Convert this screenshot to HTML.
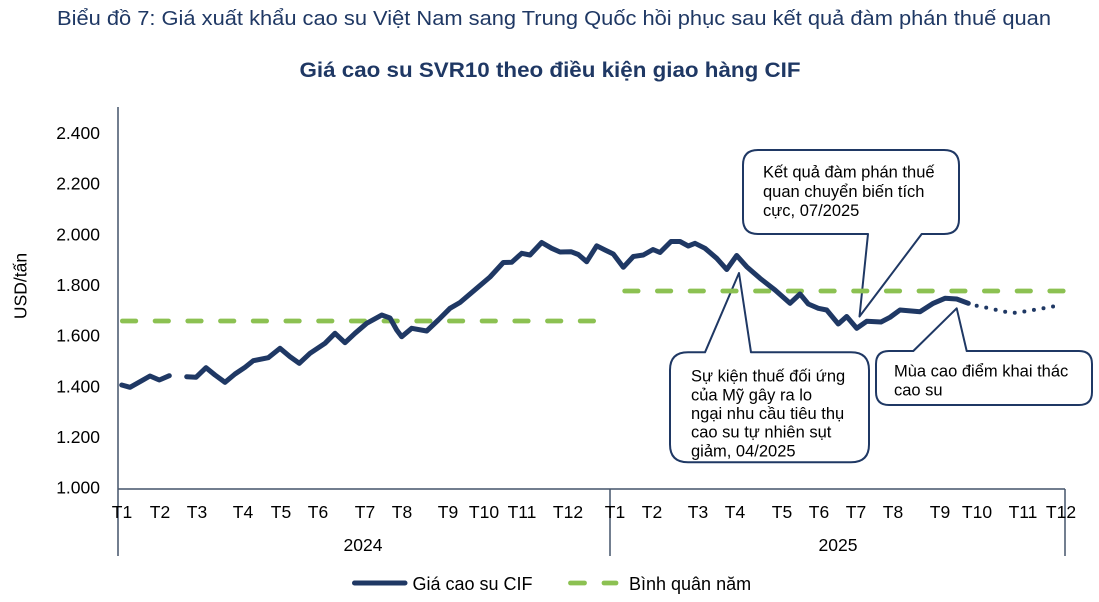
<!DOCTYPE html>
<html>
<head>
<meta charset="utf-8">
<style>
html,body{margin:0;padding:0;background:#fff;}
svg{display:block;}
text{font-family:"Liberation Sans",Arial,sans-serif;}
</style>
</head>
<body>
<svg width="1099" height="602" viewBox="0 0 1099 602" xmlns="http://www.w3.org/2000/svg">
<rect width="1099" height="602" fill="#fff"/>

<!-- Titles -->
<text x="57" y="25" font-size="20.5" fill="#1F3864" textLength="994" lengthAdjust="spacingAndGlyphs">Biểu đồ 7: Giá xuất khẩu cao su Việt Nam sang Trung Quốc hồi phục sau kết quả đàm phán thuế quan</text>
<text x="299.5" y="77" font-size="21.5" font-weight="bold" fill="#1F3864" textLength="501" lengthAdjust="spacingAndGlyphs">Giá cao su SVR10 theo điều kiện giao hàng CIF</text>

<!-- Y axis title -->
<text transform="translate(26.5,286) rotate(-90)" text-anchor="middle" font-size="17.5" fill="#000">USD/tấn</text>

<!-- Y labels -->
<g font-size="17.5" fill="#000" text-anchor="end">
<text x="100" y="139">2.400</text>
<text x="100" y="189.7">2.200</text>
<text x="100" y="240.3">2.000</text>
<text x="100" y="291">1.800</text>
<text x="100" y="341.7">1.600</text>
<text x="100" y="392.3">1.400</text>
<text x="100" y="443">1.200</text>
<text x="100" y="493.7">1.000</text>
</g>

<!-- Axes -->
<g stroke="#44546A" stroke-width="1.5" fill="none">
<line x1="118" y1="107" x2="118" y2="556"/>
<line x1="118" y1="489" x2="1065" y2="489"/>
<line x1="610" y1="489" x2="610" y2="556"/>
<line x1="1065" y1="489" x2="1065" y2="556"/>
</g>

<!-- X labels -->
<g font-size="17.5" fill="#000" text-anchor="middle">
<text x="122" y="518">T1</text>
<text x="160" y="518">T2</text>
<text x="197" y="518">T3</text>
<text x="243" y="518">T4</text>
<text x="281" y="518">T5</text>
<text x="318" y="518">T6</text>
<text x="365" y="518">T7</text>
<text x="402" y="518">T8</text>
<text x="448" y="518">T9</text>
<text x="484" y="518">T10</text>
<text x="522" y="518">T11</text>
<text x="568" y="518">T12</text>
<text x="615" y="518">T1</text>
<text x="652" y="518">T2</text>
<text x="698" y="518">T3</text>
<text x="735" y="518">T4</text>
<text x="782" y="518">T5</text>
<text x="819" y="518">T6</text>
<text x="856" y="518">T7</text>
<text x="893" y="518">T8</text>
<text x="940" y="518">T9</text>
<text x="977" y="518">T10</text>
<text x="1023" y="518">T11</text>
<text x="1061" y="518">T12</text>
<text x="363" y="551">2024</text>
<text x="838" y="551">2025</text>
</g>

<!-- Callouts -->
<g fill="#fff" stroke="#1F3864" stroke-width="2" stroke-linejoin="round">
<path d="M758,150 H944 Q959,150 959,165 V219 Q959,234 944,234 H921.7 L859.5,316.5 L868,234 H758 Q743,234 743,219 V165 Q743,150 758,150 Z"/>
<path d="M688,352.3 H705 L739,273 L751,352.3 H851 Q869,352.3 869,370 V444.5 Q869,462.3 851,462.3 H688 Q670,462.3 670,444.5 V370 Q670,352.3 688,352.3 Z"/>
<path d="M889,351 H913.3 L956.7,308.3 L966.7,351 H1079 Q1092,351 1092,364 V392 Q1092,405 1079,405 H889 Q876,405 876,392 V364 Q876,351 889,351 Z"/>
</g>
<g font-size="16.5" fill="#000">
<text x="763" y="177.5">Kết quả đàm phán thuế</text>
<text x="763" y="197">quan chuyển biến tích</text>
<text x="763" y="216">cực, 07/2025</text>
<text x="691" y="381.7">Sự kiện thuế đối ứng</text>
<text x="691" y="400.3">của Mỹ gây ra lo</text>
<text x="691" y="419">ngại nhu cầu tiêu thụ</text>
<text x="691" y="437.7">cao su tự nhiên sụt</text>
<text x="691" y="456.3">giảm, 04/2025</text>
<text x="894" y="376.5">Mùa cao điểm khai thác</text>
<text x="894" y="395.5">cao su</text>
</g>

<!-- Average dashed lines -->
<g stroke="#8CC152" stroke-width="4.8" stroke-linecap="round" fill="none" stroke-dasharray="13.4 19.3">
<line x1="122.4" y1="321" x2="597" y2="321"/>
<line x1="624.7" y1="291" x2="1064" y2="291"/>
</g>

<!-- Main series -->
<g stroke="#1F3864" stroke-width="5" stroke-linecap="round" stroke-linejoin="round" fill="none">
<polyline points="121.7,385 130,387.3 140,381.7 150,376 159.3,380 169.3,375.7"/>
<polyline points="186.7,376.7 196,377.3 206,367.7 215,375 225,382.3 235,374 245,367.3 253.3,360.7 268.3,357.7 280,348.3 290,356.7 299.3,363.3 310,353.3 325,343.3 335,333.3 345,342.7 355,333.3 366.7,323.3 381.7,315 390,318 396.7,330 401.7,336.7 411.7,328.3 426.7,331 438.3,320 450,308.3 460,302.5 476.7,288.3 490,277 503.3,262.5 511.7,262.3 521.7,253.3 530,255 541.7,242.5 551.7,248.3 560,252 571,251.7 578.3,254.5 586.7,261.7 596.7,245.8 605,250 613.3,254 623.3,267.3 633.3,256.5 643.3,255 653,249.5 660,252.5 671,241.5 680,241.5 688.3,246 695,243.3 705,248.3 716.7,258.3 726.7,269.5 736.7,255.5 746.7,266.7 760,278.3 775,290 790,303.3 800,294 808.3,304 818.3,308.3 826.7,310 838.3,324 846.7,316.5 856.7,328.3 866.7,321.3 881,322 890,317.3 900,310 920,311.7 933.3,303.3 945,298.3 956.7,299 968.3,303.3"/>
<path d="M976.7,305.7 L986.7,307.7 L996.7,310 L1005,311.7 L1013.3,313 L1023.3,311.7 L1033.3,310 L1043.3,308.3 L1053.3,306.5 L1060,304.5" stroke-width="4" stroke-dasharray="0 9.7"/>
</g>

<!-- Legend -->
<line x1="354.5" y1="583" x2="405" y2="583" stroke="#1F3864" stroke-width="5" stroke-linecap="round"/>
<text x="412.5" y="590" font-size="18" fill="#000">Giá cao su CIF</text>
<g stroke="#8CC152" stroke-width="4.8" stroke-linecap="round">
<line x1="570.5" y1="583" x2="584.5" y2="583"/>
<line x1="604" y1="583" x2="616" y2="583"/>
</g>
<text x="629" y="590" font-size="18" fill="#000">Bình quân năm</text>
</svg>
</body>
</html>
